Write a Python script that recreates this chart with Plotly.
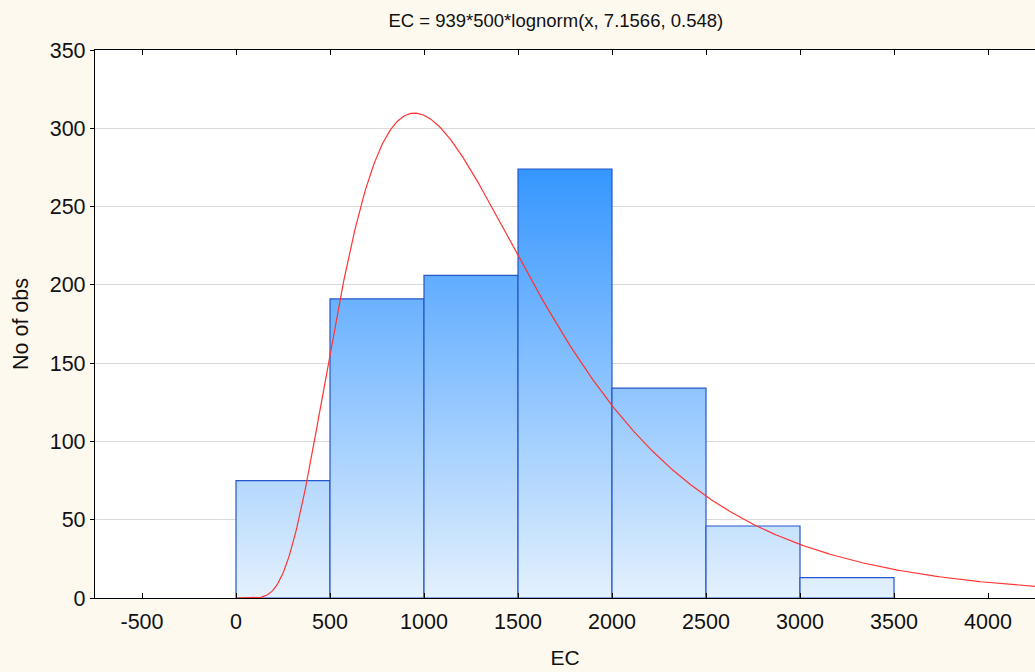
import numpy as np
import plotly.graph_objects as go

# Data
bin_starts = [0, 500, 1000, 1500, 2000, 2500, 3000]
bin_width = 500
counts = [75, 191, 206, 274, 134, 46, 13]

# Fitted curve parameters (from the title)
n_obs = 939
mu = 7.1566
sigma = 0.548

x_ticks = [-500, 0, 500, 1000, 1500, 2000, 2500, 3000, 3500, 4000]
x_tick_text = ["-500", "0", "500", "1000", "1500", "2000", "2500", "3000", "3500", "4000"]
y_ticks = [0, 50, 100, 150, 200, 250, 300, 350]

fig = go.Figure()

for s, c in zip(bin_starts, counts):
    fig.add_trace(go.Scatter(
        x=[s, s, s + bin_width, s + bin_width, s],
        y=[0, c, c, 0, 0],
        mode="lines",
        fill="toself",
        fillgradient=dict(type="vertical",
                          colorscale=[[0, "#E4F1FD"], [1, "#3596FF"]],
                          start=0, stop=max(counts)),
        line=dict(color="#2556CC", width=1.2),
        hoverinfo="skip",
        showlegend=False,
    ))

xs = np.linspace(1, 4300, 800)
pdf = np.exp(-(np.log(xs) - mu) ** 2 / (2 * sigma ** 2)) / (xs * sigma * np.sqrt(2 * np.pi))
ys = n_obs * bin_width * pdf
fig.add_trace(go.Scatter(x=xs, y=ys, mode="lines",
                         line=dict(color="#FF3333", width=1.2),
                         showlegend=False, hoverinfo="skip"))

font = "Liberation Sans, Arial, sans-serif"
fig.update_layout(
    width=1035, height=672,
    margin=dict(l=95, r=0, t=50, b=74, autoexpand=False),
    paper_bgcolor="#FDF9EF",
    plot_bgcolor="#FFFFFF",
    font=dict(family=font, size=21.5, color="#111111"),
    title=dict(text=f"EC = {n_obs}*{bin_width}*lognorm(x, {mu}, {sigma})",
               x=0.537, xanchor="center", y=0.97, yanchor="middle",
               font=dict(size=18.5)),
    xaxis=dict(range=[-750, 4250], tickvals=x_ticks, ticktext=x_tick_text,
               ticks="inside", ticklen=5, tickcolor="#000", showline=True,
               linecolor="#000", linewidth=1.3, mirror="ticks", showgrid=False,
               zeroline=False, automargin=False, ticklabelstandoff=4,
               title=dict(text="EC", standoff=17, font=dict(size=21))),
    yaxis=dict(range=[0, 350], tickvals=y_ticks, ticks="outside",
               ticklen=4, tickcolor="#000", showline=True, linecolor="#000",
               linewidth=1.3, mirror="ticks", showgrid=True,
               gridcolor="#D9D9D9", gridwidth=1, zeroline=False,
               automargin=False,
               title=dict(text="No of obs", standoff=15, font=dict(size=21.5))),
)

fig.write_html("out.html")
